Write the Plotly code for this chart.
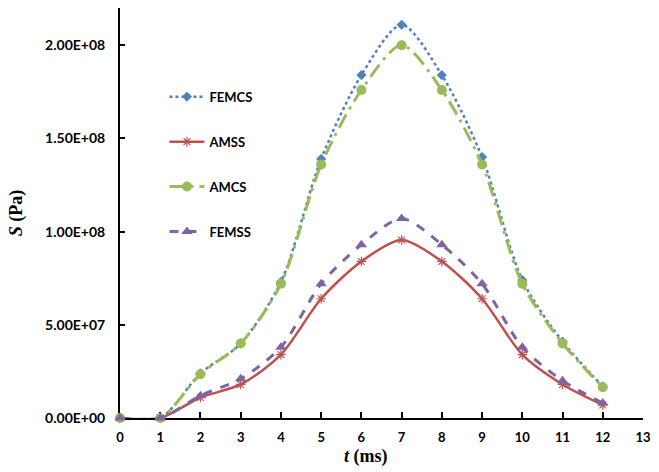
import plotly.graph_objects as go

t = [0, 1, 2, 3, 4, 5, 6, 7, 8, 9, 10, 11, 12]
femcs = [0, 0, 24e6, 40e6, 73e6, 139e6, 184e6, 211e6, 184e6, 140e6, 74e6, 41e6, 17e6]
amss = [0, 0, 11e6, 18e6, 34e6, 64e6, 84e6, 95.5e6, 84e6, 64e6, 34e6, 18e6, 7e6]
amcs = [0, 0, 23.5e6, 40e6, 72e6, 136e6, 176e6, 200e6, 176e6, 136e6, 72e6, 40e6, 16.5e6]
femss = [0, 0, 12e6, 21e6, 38e6, 72e6, 93e6, 107e6, 93e6, 72e6, 38e6, 20e6, 8e6]

y_tickvals = [0, 5e7, 1e8, 1.5e8, 2e8]
y_ticktext = ["0.00E+00", "5.00E+07", "1.00E+08", "1.50E+08", "2.00E+08"]
x_tickvals = list(range(0, 14))

series = [
    ("FEMCS", femcs, "#4F81BD", "dot", 2.5, "diamond", 7, 1),
    ("AMSS", amss, "#C0504D", "solid", 2.5, "asterisk-open", 8, 1.2),
    ("AMCS", amcs, "#9BBB59", "longdashdot", 3, "circle", 10, 0),
    ("FEMSS", femss, "#8064A2", "dash", 3, "triangle-up", 10, 0),
]

fig = go.Figure()
for name, vals, col, dash, w, sym, ms, mlw in series:
    fig.add_trace(go.Scatter(
        x=t, y=vals, name=name, legendgroup=name, mode="lines+markers",
        line=dict(color=col, dash=dash, width=w, shape="spline", smoothing=0.8),
        marker=dict(symbol=sym, size=ms, color=col, line=dict(color=col, width=mlw)),
        cliponaxis=False,
    ))

fig.update_layout(
    width=659, height=472,
    margin=dict(l=120, r=8, t=8, b=54),
    paper_bgcolor="white", plot_bgcolor="white",
    font=dict(family="Lato", size=12, color="black"),
    showlegend=True,
    legend=dict(
        x=0.085, y=0.82, xanchor="left", yanchor="top",
        traceorder="grouped", tracegroupgap=25,
        font=dict(family="Lato", size=13, color="black", weight="bold"),
        bgcolor="rgba(0,0,0,0)", itemwidth=35,
    ),
    xaxis=dict(
        range=[0, 13], tickvals=x_tickvals, ticks="inside", ticklen=6,
        tickwidth=1.5, tickcolor="black", showline=True, linecolor="black",
        linewidth=2, showgrid=False, zeroline=False, ticklabelstandoff=6,
        layer="below traces",
        tickfont=dict(family="Lato", size=13, weight="bold"),
    ),
    yaxis=dict(
        range=[0, 2.2e8], tickvals=y_tickvals, ticktext=y_ticktext,
        ticks="inside", ticklen=5, tickwidth=1.5, tickcolor="black",
        showline=True, linecolor="black", linewidth=2, showgrid=False,
        zeroline=False, ticklabelstandoff=10, layer="below traces",
        tickfont=dict(family="Lato", size=14, weight="bold"),
        title=dict(text="<i>S</i> (Pa)", font=dict(family="Liberation Serif", size=18, weight="bold"), standoff=18),
    ),
    annotations=[dict(
        text="<i>t</i> (ms)", xref="paper", yref="paper", x=0.47, y=-0.094,
        xanchor="center", yanchor="middle", showarrow=False,
        font=dict(family="Liberation Serif", size=18, weight="bold", color="black"),
    )],
)

fig.write_html("out.html")
